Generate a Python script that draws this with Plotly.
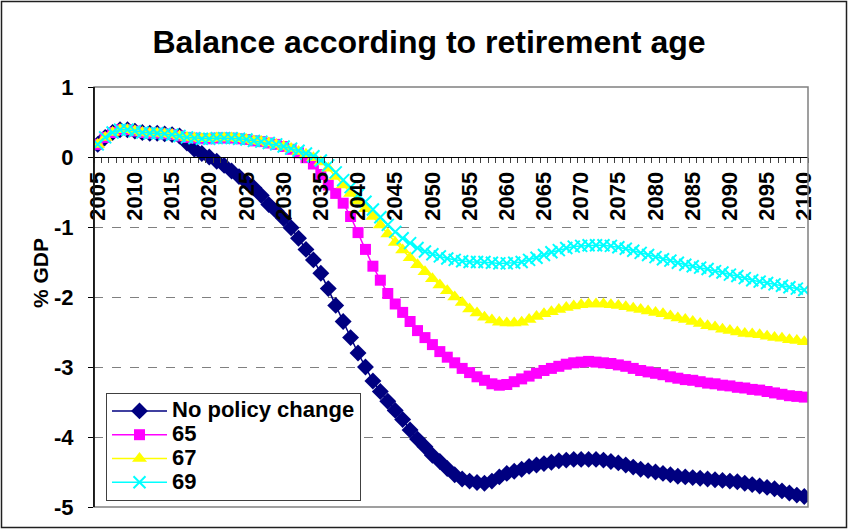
import plotly.graph_objects as go

# --- data ---
years = list(range(2005, 2101))

no_policy = [
    0.18, 0.28, 0.35, 0.39, 0.39, 0.37, 0.35, 0.34, 0.34, 0.33,
    0.32, 0.30, 0.20, 0.11, 0.05, 0.00, -0.06, -0.12, -0.20, -0.28,
    -0.36, -0.44, -0.55, -0.68, -0.77, -0.88, -1.01, -1.16, -1.32, -1.47,
    -1.66, -1.88, -2.12, -2.35, -2.58, -2.80, -3.00, -3.20, -3.35, -3.49,
    -3.62, -3.75, -3.90, -4.03, -4.14, -4.26, -4.35, -4.45, -4.54, -4.60,
    -4.63, -4.65, -4.66, -4.63, -4.57, -4.52, -4.49, -4.46, -4.42, -4.40,
    -4.38, -4.36, -4.34, -4.33, -4.32, -4.32, -4.32, -4.32, -4.33, -4.35,
    -4.37, -4.40, -4.43, -4.46, -4.48, -4.50, -4.52, -4.54, -4.56, -4.57,
    -4.58, -4.59, -4.60, -4.61, -4.62, -4.63, -4.64, -4.66, -4.68, -4.70,
    -4.72, -4.74, -4.77, -4.80, -4.83, -4.85,
]

age_65 = [
    0.18, 0.28, 0.35, 0.39, 0.39, 0.37, 0.35, 0.34, 0.34, 0.33,
    0.32, 0.30, 0.28, 0.27, 0.26, 0.26, 0.27, 0.27, 0.27, 0.26,
    0.25, 0.23, 0.22, 0.20, 0.18, 0.15, 0.11, 0.06, -0.01, -0.10,
    -0.25, -0.40, -0.52, -0.66, -0.85, -1.08, -1.32, -1.56, -1.76, -1.95,
    -2.10, -2.22, -2.35, -2.48, -2.58, -2.68, -2.78, -2.86, -2.94, -3.02,
    -3.08, -3.14, -3.19, -3.24, -3.26, -3.25, -3.21, -3.17, -3.13, -3.09,
    -3.05, -3.02, -2.99, -2.96, -2.94, -2.93, -2.92, -2.93, -2.94, -2.95,
    -2.97, -2.99, -3.02, -3.05, -3.07, -3.09, -3.11, -3.14, -3.16, -3.18,
    -3.19, -3.21, -3.23, -3.24, -3.26, -3.27, -3.29, -3.30, -3.32, -3.33,
    -3.35, -3.37, -3.39, -3.41, -3.42, -3.43,
]

age_67 = [
    0.18, 0.28, 0.35, 0.39, 0.39, 0.37, 0.35, 0.34, 0.34, 0.33,
    0.32, 0.30, 0.28, 0.27, 0.26, 0.26, 0.27, 0.27, 0.27, 0.26,
    0.25, 0.23, 0.22, 0.20, 0.18, 0.15, 0.12, 0.08, 0.04, -0.01,
    -0.07, -0.16, -0.28, -0.40, -0.52, -0.63, -0.74, -0.85, -0.97, -1.10,
    -1.22, -1.33, -1.44, -1.54, -1.64, -1.74, -1.83, -1.91, -2.00, -2.08,
    -2.17, -2.23, -2.29, -2.33, -2.36, -2.37, -2.37, -2.36, -2.32, -2.28,
    -2.24, -2.21, -2.18, -2.15, -2.13, -2.11, -2.10, -2.10, -2.10, -2.11,
    -2.12, -2.14, -2.16, -2.18, -2.20, -2.22, -2.24, -2.27, -2.30, -2.32,
    -2.35, -2.38, -2.41, -2.43, -2.46, -2.48, -2.50, -2.52, -2.53, -2.54,
    -2.56, -2.58, -2.59, -2.61, -2.62, -2.64,
]

age_69 = [
    0.18, 0.28, 0.35, 0.39, 0.39, 0.37, 0.35, 0.34, 0.34, 0.33,
    0.32, 0.30, 0.28, 0.27, 0.26, 0.26, 0.27, 0.27, 0.27, 0.26,
    0.25, 0.23, 0.22, 0.20, 0.18, 0.15, 0.12, 0.09, 0.05, 0.01,
    -0.05, -0.12, -0.22, -0.33, -0.43, -0.54, -0.64, -0.75, -0.86, -0.97,
    -1.07, -1.16, -1.23, -1.30, -1.35, -1.39, -1.42, -1.45, -1.47, -1.49,
    -1.50, -1.50, -1.50, -1.51, -1.52, -1.52, -1.51, -1.50, -1.47, -1.44,
    -1.40, -1.36, -1.33, -1.30, -1.28, -1.27, -1.26, -1.26, -1.26, -1.27,
    -1.29, -1.31, -1.34, -1.37, -1.40, -1.43, -1.46, -1.48, -1.51, -1.54,
    -1.56, -1.58, -1.60, -1.63, -1.65, -1.68, -1.70, -1.73, -1.76, -1.78,
    -1.80, -1.82, -1.84, -1.86, -1.88, -1.90,
]

series_names = ['No policy change', '65', '67', '69']
x_tick_years = list(range(2005, 2101, 5))
y_ticks = [1, 0, -1, -2, -3, -4, -5]

FONT = 'Liberation Sans, Arial, sans-serif'

# plot area in pixels (848 x 529 canvas)
W, H = 848, 529
L, R, T, B = 94, 808, 87, 507
PW, PH = R - L, B - T

fig = go.Figure()

styles = [
    dict(color='#000080', symbol='diamond', size=13, line=dict(width=0)),
    dict(color='#FF00FF', symbol='square', size=11, line=dict(width=0)),
    dict(color='#FFFF00', symbol='triangle-up', size=13, line=dict(width=0)),
    dict(color='#00FFFF', symbol='x-thin', size=12, line=dict(width=2, color='#00FFFF')),
]

for name, vals, st in zip(series_names, [no_policy, age_65, age_67, age_69], styles):
    fig.add_trace(go.Scatter(
        x=years, y=vals,
        name='<span style="font-size:22px"><b>%s</b></span>' % name,
        mode='lines+markers',
        line=dict(color=st['color'], width=1.5),
        marker=st,
    ))

fig.update_layout(
    width=W, height=H,
    margin=dict(l=L, r=W - R, t=T, b=H - B),
    paper_bgcolor='white',
    plot_bgcolor='white',
    font=dict(family=FONT, color='black', size=16),
    title=dict(
        text='<b>Balance according to retirement age</b>',
        x=429 / W, xanchor='center',
        y=1 - 42 / H, yanchor='middle',
        font=dict(size=32, family=FONT, color='black'),
    ),
    showlegend=True,
    legend=dict(
        x=(106 - L) / PW, y=(B - 393) / PH,
        xanchor='left', yanchor='top',
        bgcolor='white',
        bordercolor='#404040', borderwidth=1,
        # small base size keeps rows tight; names carry the real size
        font=dict(size=16, family=FONT, color='black'),
        itemwidth=55,
        tracegroupgap=0,
    ),
)

fig.update_xaxes(
    range=[2004.5, 2100.5],
    anchor='free', position=5 / 6,
    side='bottom', automargin=False,
    showline=True, linecolor='black', linewidth=1,
    showgrid=False, zeroline=False,
    tickmode='array', tickvals=x_tick_years,
    ticktext=[str(v) for v in x_tick_years],
    tickangle=-90,
    ticks='outside', ticklen=5, tickcolor='rgba(0,0,0,0)',
    tickfont=dict(size=22, family=FONT, color='black', weight='bold'),
    minor=dict(ticks='outside', ticklen=5, tickcolor='#404040',
               tick0=2004.5, dtick=1, showgrid=False),
)

fig.update_yaxes(
    range=[-5, 1], automargin=False,
    tickmode='array', tickvals=y_ticks,
    ticktext=[str(v) for v in y_ticks],
    showline=True, linecolor='black', linewidth=1,
    ticks='outside', ticklen=5, tickcolor='black',
    showgrid=True, gridcolor='#808080', griddash='dash', gridwidth=1,
    zeroline=False,
    tickfont=dict(size=22, family=FONT, color='black', weight='bold'),
    ticklabelstandoff=10,
)

# plot-area frame (top / right / bottom grey)
fig.add_shape(type='rect', xref='paper', yref='paper', x0=0, x1=1, y0=0, y1=1,
              line=dict(color='#808080', width=1.5), layer='above')
# black left axis drawn again on top of frame
fig.add_shape(type='line', xref='paper', yref='paper', x0=0, x1=0, y0=0, y1=1,
              line=dict(color='black', width=1.5), layer='above')
# outer chart border
fig.add_shape(type='rect', xref='paper', yref='paper',
              x0=(1.5 - L) / PW, x1=(W - 1.5 - L) / PW,
              y0=(B - (H - 1.5)) / PH, y1=(B - 1.5) / PH,
              line=dict(color='#202020', width=1.5))

fig.add_annotation(
    text='<b>% GDP</b>', textangle=-90,
    xref='paper', yref='paper',
    x=(40 - L) / PW, y=(B - 273) / PH,
    xanchor='center', yanchor='middle',
    showarrow=False, font=dict(size=21, family=FONT, color='black'),
)

# page body has a default 8px margin; drop it so the chart sits at 0,0
fig.write_html("out.html", config={'displayModeBar': False},
               post_script="document.body.style.margin='0';")
